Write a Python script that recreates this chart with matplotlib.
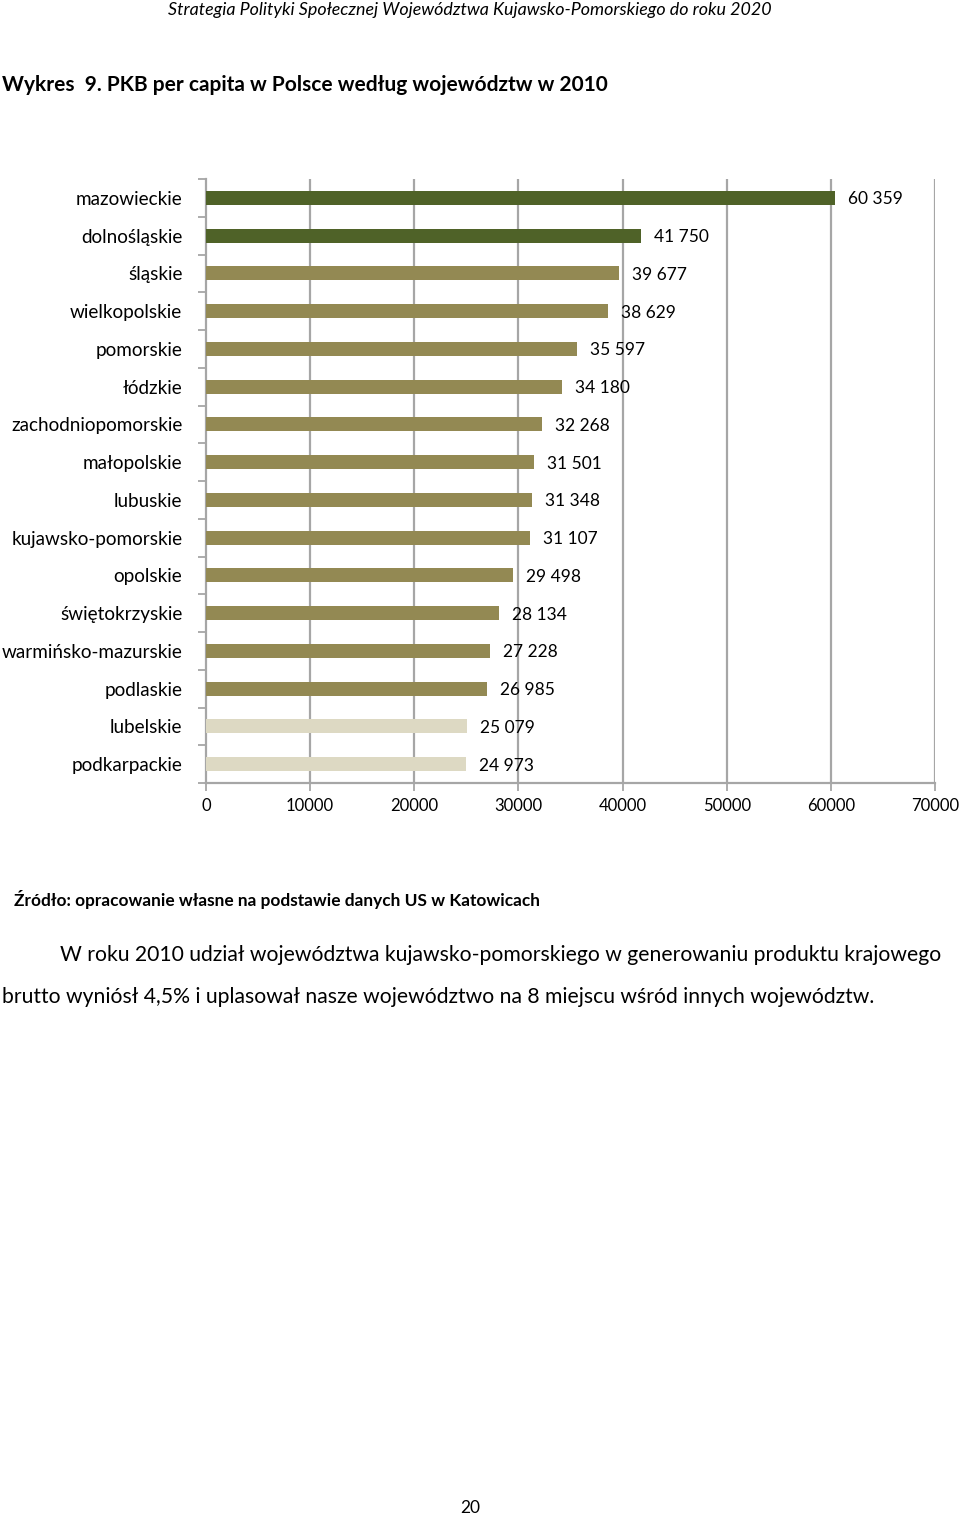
import matplotlib
matplotlib.use("Agg")
import matplotlib.pyplot as plt
import numpy as np

categories = ["mazowieckie", "dolnośląskie", "śląskie", "wielkopolskie", "pomorskie",
              "łódzkie", "zachodniopomorskie", "małopolskie", "lubuskie",
              "kujawsko-pomorskie", "opolskie", "świętokrzyskie",
              "warmińsko-mazurskie", "podlaskie", "lubelskie", "podkarpackie"]
values = [60359, 41750, 39677, 38629, 35597, 34180, 32268, 31501, 31348,
          31107, 29498, 28134, 27228, 26985, 25079, 24973]
groups = [0, 0, 1, 1, 1, 1, 1, 1, 1, 1, 1, 1, 1, 1, 2, 2]
group_colors = ["#4F6228", "#938953", "#DDD9C3"]
x_ticks = [0, 10000, 20000, 30000, 40000, 50000, 60000, 70000]

plt.rcParams['font.family'] = ['Lato', 'DejaVu Sans']

fig = plt.figure(figsize=(9.6, 15.2), dpi=100)
ax = fig.add_axes([206/960, 1-783/1520, 729/960, (783-179)/1520])

n = len(categories)
y = np.arange(n)
colors = [group_colors[g] for g in groups]
ax.barh(y, values, height=0.37, color=colors, zorder=3)
ax.set_ylim(n - 0.5, -0.5)
ax.set_xlim(0, 70000)

grid_c = "#A6A6A6"
for xt in x_ticks[1:]:
    ax.axvline(xt, color=grid_c, lw=1.6, zorder=1)

for yi, v in zip(y, values):
    ax.text(v + 1250, yi + 0.04, f"{v:,}".replace(",", " "), va="center", ha="left",
            fontsize=12.5, color="#000000")

ax.set_yticks(y)
ax.set_yticklabels(categories, fontsize=13.6)
ax.set_yticks(np.arange(-0.5, n, 1.0), minor=True)
ax.tick_params(axis="y", which="major", length=0, pad=17)
ax.tick_params(axis="y", which="minor", length=6, width=1.3, color=grid_c)
ax.set_xticks(x_ticks)
ax.set_xticklabels([str(t) for t in x_ticks], fontsize=12)
ax.tick_params(axis="x", which="major", length=6, width=1.3, color=grid_c, pad=5)

for s in ["top", "right"]:
    ax.spines[s].set_visible(False)
for s in ["left", "bottom"]:
    ax.spines[s].set_color(grid_c)
    ax.spines[s].set_linewidth(1.6)

fig.text(470/960, 1-10/1520, "Strategia Polityki Społecznej Województwa Kujawsko-Pomorskiego do roku 2020",
         ha="center", va="center", fontsize=12.9, style="italic")
fig.text(2/960, 1-85/1520, "Wykres  9. PKB per capita w Polsce według województw w 2010",
         ha="left", va="center", fontsize=15, fontweight="bold")
fig.text(14/960, 1-900/1520, "Źródło: opracowanie własne na podstawie danych US w Katowicach",
         ha="left", va="center", fontsize=12.4, fontweight="bold")
fig.text(60/960, 1-955/1520, "W roku 2010 udział województwa kujawsko-pomorskiego w generowaniu produktu krajowego",
         ha="left", va="center", fontsize=15.2)
fig.text(2/960, 1-997/1520, "brutto wyniósł 4,5% i uplasował nasze województwo na 8 miejscu wśród innych województw.",
         ha="left", va="center", fontsize=15.2)
fig.text(470/960, 1-1508/1520, "20", ha="center", va="center", fontsize=12.5)

fig.savefig("out.png", dpi=100, facecolor="white")
